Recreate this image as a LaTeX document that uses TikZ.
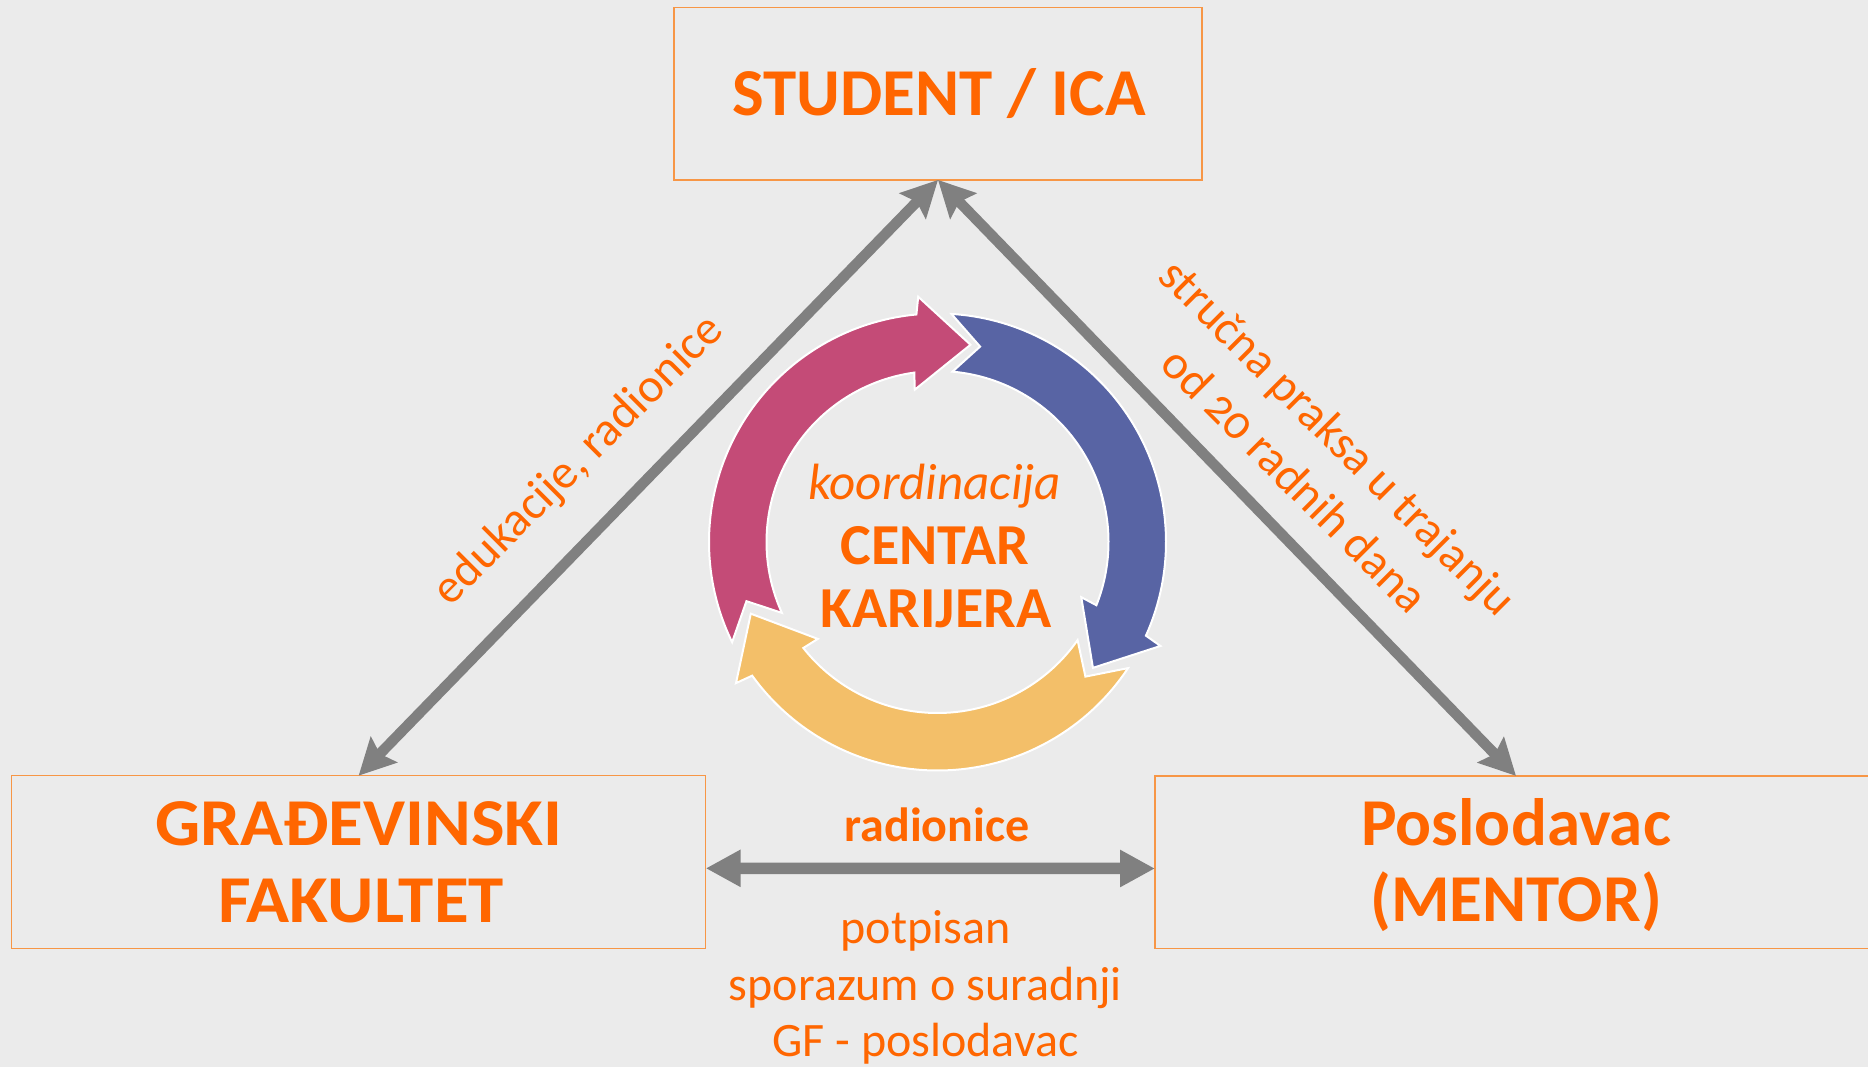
\documentclass[tikz,border=0pt]{standalone}
\usepackage{fontspec}
\setmainfont{Carlito}[Numbers=OldStyle]
\newfontfamily\widefont{Carlito}[FakeStretch=1.06]
\usetikzlibrary{arrows.meta}
\definecolor{bg}{HTML}{EBEBEB}
\definecolor{txt}{HTML}{FF6600}
\definecolor{boxline}{HTML}{F79646}
\definecolor{arrowgray}{HTML}{808080}
\definecolor{cpink}{HTML}{C44B77}
\definecolor{cblue}{HTML}{5864A4}
\definecolor{cyellow}{HTML}{F3BF69}
\begin{document}
\begin{tikzpicture}[x=1pt,y=1pt,
  framebox/.style={draw=boxline, line width=1.3pt, minimum height=172.6pt, inner sep=0pt, outer sep=0pt},
  boxtext/.style={text=txt, font=\fontsize{67}{76}\selectfont\bfseries, anchor=base, inner sep=0pt},
  lbl/.style={text=txt, font=\fontsize{48}{61}\selectfont, inner sep=0pt},
  diaglink/.style={draw=arrowgray, line width=10.5pt,
    {Stealth[length=36pt,width=36pt,inset=5.5pt]}-{Stealth[length=36pt,width=36pt,inset=5.5pt]}},
  hlink/.style={draw=arrowgray, line width=11.5pt,
    {Triangle[length=35pt,width=35pt]}-{Triangle[length=35pt,width=35pt]}},
  cyclepart/.style={draw=white, line width=2pt, line join=miter}
]
\useasboundingbox (0,0) rectangle (1868,-1067);
\fill[bg] (0,0) rectangle (1868,-1067);
\clip (0,0) rectangle (1868,-1067);

% boxes
\node[framebox, minimum width=527.8pt] (student) at (938,-93.65) {};
\node[framebox, minimum width=694.2pt] (fakultet) at (358.6,-862) {};
\node[framebox, minimum width=722pt] (poslodavac) at (1516,-862.2) {};

% box texts
\node[boxtext] (studenttxt) at (939,-116) {STUDENT / ICA};
\node[boxtext, font=\fontsize{67}{76}\widefont\bfseries] (gf1) at (358.8,-845.3) {GRAĐEVINSKI};
\node[boxtext, font=\fontsize{67}{76}\widefont\bfseries] (gf2) at (361,-922) {FAKULTET};
\node[boxtext] (pos1) at (1516,-845.7) {Poslodavac};
\node[boxtext] (pos2) at (1516,-921.7) {(MENTOR)};

% connectors
\draw[diaglink] (student.south) -- (fakultet.north);
\draw[diaglink] (student.south) -- (poslodavac.north);
\draw[hlink] ([yshift=-6.3pt]fakultet.east) -- ([yshift=-6.3pt]poslodavac.west);

% connector labels
\node[lbl, font=\fontsize{48}{61}\selectfont\bfseries, anchor=base] (hradionice) at (937,-841) {radionice};
\node[lbl, anchor=base] (pot1) at (925.5,-943.3) {potpisan};
\node[lbl, anchor=base] (pot2) at (925.5,-1000) {sporazum o suradnji};
\node[lbl, anchor=base] (pot3) at (925.5,-1056.7) {GF - poslodavac};
\node[lbl, rotate=45] (edu) at (579,-461) {edukacije, radionice};
\node[lbl, rotate=-45, align=center] (praksa) at (1317,-458) {stručna praksa u trajanju\\od 20 radnih dana};

% cycle
\begin{scope}[shift={(937.5,-542)}]
\foreach \p/\c in {80.5/cpink, -39/cblue, 201/cyellow}{
  \filldraw[cyclepart, fill=\c]
    (\p:200pt) -- (\p+14:246pt) -- (\p+14.8:228.5pt)
    arc[start angle=\p+14.8, end angle=\p+125.5, radius=228.5pt]
    -- (\p+116.7:200pt) -- (\p+124:171pt)
    arc[start angle=\p+124, end angle=\p+17.3, radius=171pt]
    -- (\p+18:154pt) -- cycle;
}
\end{scope}

% centre texts
\node[lbl, font=\fontsize{51}{60}\selectfont\itshape, anchor=base] (koord) at (934.7,-499.3) {koordinacija};
\node[lbl, font=\fontsize{58}{64}\selectfont\bfseries, anchor=base] (centar) at (935,-564) {CENTAR};
\node[lbl, font=\fontsize{58}{64}\selectfont\bfseries, anchor=base] (karijera) at (936,-627.7) {KARIJERA};
\end{tikzpicture}
\end{document}
